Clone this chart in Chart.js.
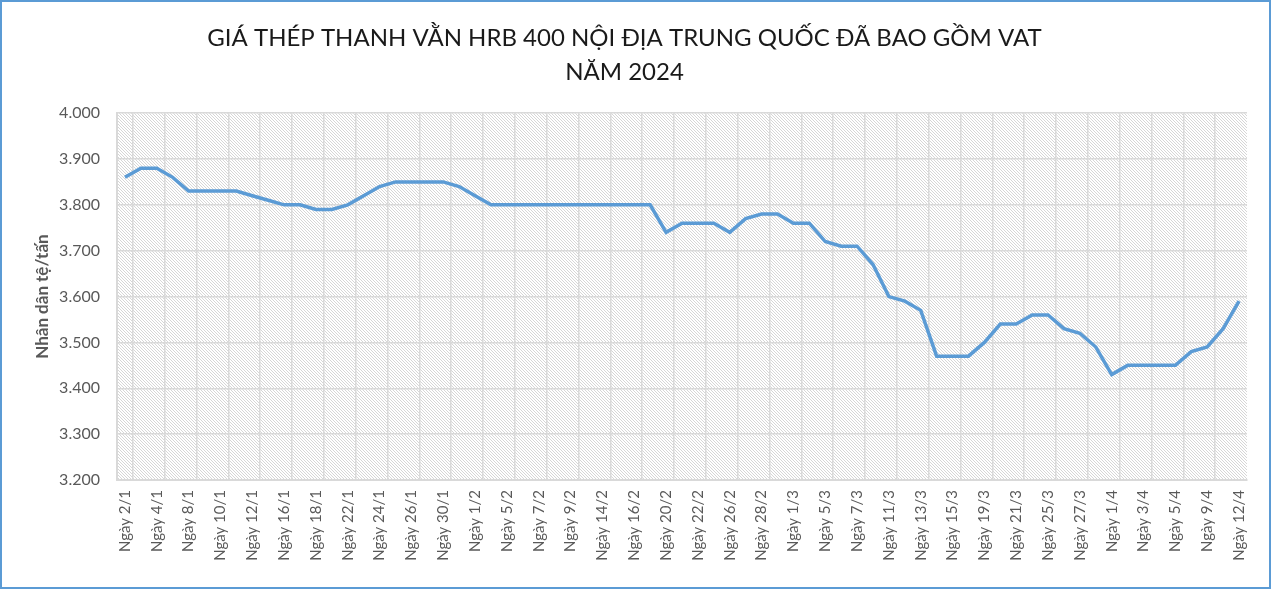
<!DOCTYPE html>
<html>
<head>
<meta charset="utf-8">
<script src="https://cdn.jsdelivr.net/npm/chart.js@4/dist/chart.umd.min.js"></script>
<style>
  body { margin: 0; background: #fff; }
  #khung { width: 1271px; height: 589px; box-sizing: border-box; border: 2px solid #5b9bd5; background: #fff; }
</style>
</head>
<body>
<div id="khung"><canvas id="graficoThep"></canvas></div>
<script>
// DU LIEU

const ngay = [
  '2/1', '3/1', '4/1', '5/1', '8/1', '9/1', '10/1', '11/1', '12/1', '15/1',
  '16/1', '17/1', '18/1', '19/1', '22/1', '23/1', '24/1', '25/1', '26/1', '29/1',
  '30/1', '31/1', '1/2', '2/2', '5/2', '6/2', '7/2', '8/2', '9/2', '12/2',
  '14/2', '15/2', '16/2', '19/2', '20/2', '21/2', '22/2', '23/2', '26/2', '27/2',
  '28/2', '29/2', '1/3', '4/3', '5/3', '6/3', '7/3', '8/3', '11/3', '12/3',
  '13/3', '14/3', '15/3', '18/3', '19/3', '20/3', '21/3', '22/3', '25/3', '26/3',
  '27/3', '29/3', '1/4', '2/4', '3/4', '4/4', '5/4', '8/4', '9/4', '11/4',
  '12/4'
]

const giaThep = [
  3860, 3880, 3880, 3860, 3830, 3830, 3830, 3830, 3820, 3810,
  3800, 3800, 3790, 3790, 3800, 3820, 3840, 3850, 3850, 3850,
  3850, 3840, 3820, 3800, 3800, 3800, 3800, 3800, 3800, 3800,
  3800, 3800, 3800, 3800, 3740, 3760, 3760, 3760, 3740, 3770,
  3780, 3780, 3760, 3760, 3720, 3710, 3710, 3670, 3600, 3590,
  3570, 3470, 3470, 3470, 3500, 3540, 3540, 3560, 3560, 3530,
  3520, 3490, 3430, 3450, 3450, 3450, 3450, 3480, 3490, 3530,
  3590
]

const tieuDe = ['GIÁ THÉP THANH VẰN HRB 400 NỘI ĐỊA TRUNG QUỐC ĐÃ BAO GỒM VAT', 'NĂM 2024']
const tenTrucY = 'Nhân dân tệ/tấn'
const yMin = 3200
const yMax = 4000
const yBuoc = 100

// NEN SOC

function taoNenSoc() {
  let c = document.createElement('canvas')
  c.width = 6
  c.height = 6
  let g = c.getContext('2d')
  g.fillStyle = '#ffffff'
  g.fillRect(0, 0, 6, 6)
  g.fillStyle = '#d6d6d6'
  for (let i = 0; i < 6; i++) {
    g.fillRect(i, i, 1, 1)
    g.fillRect((i + 3) % 6, i, 1, 1)
  }
  return g.createPattern(c, 'repeat')
}

const nenSoc = {
  id: 'nenSoc',
  beforeDraw(chart) {
    let a = chart.chartArea
    let ctx = chart.ctx
    ctx.save()
    ctx.fillStyle = taoNenSoc()
    ctx.fillRect(a.left, a.top, a.right - a.left, a.bottom - a.top)
    ctx.restore()
  }
}

// BIEU DO

const graficoThep = document.getElementById('graficoThep')

new Chart(graficoThep, {
  type: 'line',
  data: {
    labels: ngay.map(d => 'Ngày ' + d),
    datasets: [{
      label: 'Giá thép',
      data: giaThep,
      borderColor: '#5b9bd5',
      borderWidth: 3.5,
      pointRadius: 0,
      tension: 0,
      fill: false
    }]
  },
  options: {
    responsive: true,
    maintainAspectRatio: false,
    animation: false,
    layout: { padding: { left: 0, right: 22, top: 0, bottom: 0 } },
    plugins: {
      legend: { display: false },
      tooltip: { enabled: false },
      title: {
        display: true,
        text: tieuDe,
        color: '#1a1a1a',
        font: { family: 'Lato', size: 24, weight: 'normal', lineHeight: 1.42 },
        padding: { top: 19, bottom: 24 }
      }
    },
    scales: {
      x: {
        offset: true,
        grid: {
          offset: true,
          drawTicks: false,
          lineWidth: 1.5,
          color: ctx => ctx.index % 2 ? '#d9d9d9' : 'rgba(0,0,0,0)'
        },
        border: { color: '#d9d9d9', width: 2 },
        ticks: {
          autoSkip: false,
          maxRotation: 90,
          minRotation: 90,
          padding: 10,
          color: '#595959',
          font: { family: 'Lato', size: 15 },
          callback: function (val, i) {
            return i % 2 ? '' : this.getLabelForValue(val)
          }
        },
        afterFit: scale => { scale.height = 107 }
      },
      y: {
        min: yMin,
        max: yMax,
        grid: { drawTicks: false, color: '#d9d9d9', lineWidth: 1.5 },
        border: { color: '#d9d9d9', width: 2 },
        ticks: {
          stepSize: yBuoc,
          padding: 17,
          color: '#595959',
          font: { family: 'Lato', size: 16 },
          callback: v => (v / 1000).toFixed(3)
        },
        title: {
          display: true,
          text: tenTrucY,
          color: '#595959',
          font: { family: 'Lato', size: 17, weight: 'bold' },
          padding: { top: 30, bottom: 0 }
        },
        afterFit: scale => { scale.width = 115 }
      }
    }
  },
  plugins: [nenSoc]
})
</script>
</body>
</html>
